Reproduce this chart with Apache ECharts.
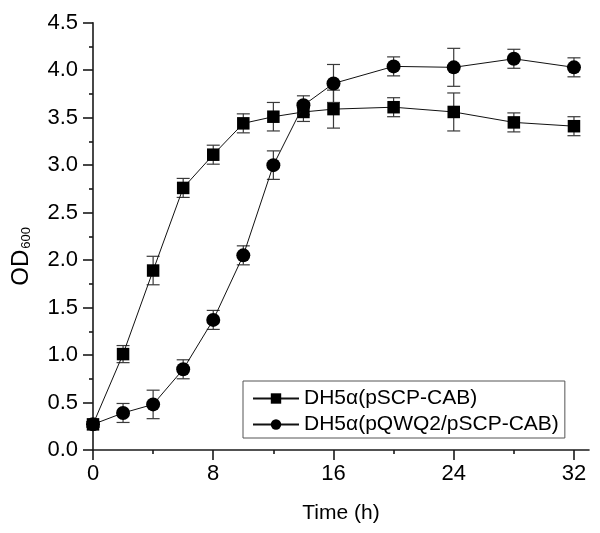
<!DOCTYPE html>
<html>
<head>
<meta charset="utf-8">
<script src="https://cdn.jsdelivr.net/npm/echarts@6/dist/echarts.min.js"></script>
<style>html,body{margin:0;padding:0;background:#fff;}#c{width:600px;height:533px;}</style>
</head>
<body>
<div id="c"></div>
<script>
const times = [0, 2, 4, 6, 8, 10, 12, 14, 16, 20, 24, 28, 32];
const seriesNames = ['DH5\u03b1(pSCP-CAB)', 'DH5\u03b1(pQWQ2/pSCP-CAB)'];
const squareVals = [0.27, 1.01, 1.89, 2.76, 3.11, 3.44, 3.51, 3.56, 3.59, 3.61, 3.56, 3.45, 3.41];
const squareErr  = [0.03, 0.09, 0.15, 0.10, 0.10, 0.10, 0.15, 0.10, 0.20, 0.10, 0.20, 0.10, 0.10];
const circleVals = [0.27, 0.39, 0.48, 0.85, 1.37, 2.05, 3.00, 3.63, 3.86, 4.04, 4.03, 4.12, 4.03];
const circleErr  = [0.03, 0.10, 0.15, 0.10, 0.10, 0.10, 0.15, 0.10, 0.20, 0.10, 0.20, 0.10, 0.10];
const xMajorTicks = [0, 8, 16, 24, 32];
const xMinorTicks = [4, 12, 20, 28];

const FONT = 'Liberation Sans, Arial, sans-serif';
const chart = echarts.init(document.getElementById('c'), null, {renderer: 'canvas'});

function pts(vals) { return times.map((t, i) => [t, vals[i]]); }
function errData(vals, errs) { return times.map((t, i) => [t, vals[i] - errs[i], vals[i] + errs[i]]); }

function errRender(params, api) {
  const x = api.value(0);
  const lo = api.coord([x, api.value(1)]);
  const hi = api.coord([x, api.value(2)]);
  const w = 6.5;
  const style = {stroke: '#3a3a3a', lineWidth: 1.2};
  return {
    type: 'group',
    children: [
      {type: 'line', shape: {x1: lo[0], y1: lo[1], x2: hi[0], y2: hi[1]}, style},
      {type: 'line', shape: {x1: lo[0] - w, y1: lo[1], x2: lo[0] + w, y2: lo[1]}, style},
      {type: 'line', shape: {x1: hi[0] - w, y1: hi[1], x2: hi[0] + w, y2: hi[1]}, style}
    ]
  };
}

const axisLineStyle = {color: '#1a1a1a', width: 1.6};

chart.setOption({
  animation: false,
  backgroundColor: '#fff',
  textStyle: {fontFamily: FONT},
  grid: {left: 93, right: 11, top: 22.7, bottom: 83, containLabel: false, outerBoundsMode: 'none'},
  legend: {
    data: seriesNames,
    orient: 'vertical',
    left: 243,
    top: 381,
    padding: [7, 6, 3, 9],
    itemGap: 5,
    itemWidth: 46,
    itemHeight: 13,
    borderColor: '#555',
    borderWidth: 1,
    textStyle: {fontFamily: FONT, fontSize: 21, color: '#000'}
  },
  xAxis: [{
    type: 'value',
    min: 0, max: 33, interval: 8,
    position: 'bottom',
    name: 'Time (h)',
    nameLocation: 'middle',
    nameGap: 53,
    nameTextStyle: {fontFamily: FONT, fontSize: 21, color: '#000'},
    axisLine: {show: true, onZero: false, lineStyle: axisLineStyle},
    axisTick: {show: true, inside: false, length: 10, customValues: xMajorTicks, lineStyle: axisLineStyle},
    axisLabel: {show: true, customValues: xMajorTicks, margin: 13, fontFamily: FONT, fontSize: 22, color: '#000'},
    splitLine: {show: false}
  }, {
    type: 'value',
    min: 0, max: 33,
    position: 'bottom',
    axisLine: {show: false},
    axisTick: {show: true, inside: false, length: 4, customValues: xMinorTicks, lineStyle: axisLineStyle},
    axisLabel: {show: false},
    splitLine: {show: false}
  }],
  yAxis: {
    type: 'value',
    min: 0, max: 4.5, interval: 0.5,
    name: '{a|OD}{b|600}',
    nameLocation: 'middle',
    nameGap: 60,
    nameTextStyle: {
      fontFamily: FONT, color: '#000',
      padding: [0, 40, 0, 0],
      rich: {
        a: {fontFamily: FONT, fontSize: 24, color: '#000', verticalAlign: 'top', lineHeight: 24},
        b: {fontFamily: FONT, fontSize: 13, color: '#000', verticalAlign: 'bottom', lineHeight: 13, padding: [20, 0, 0, 1]}
      }
    },
    axisLine: {show: true, lineStyle: axisLineStyle},
    axisTick: {show: true, inside: false, length: 10, lineStyle: axisLineStyle},
    minorTick: {show: true, splitNumber: 2, length: 4, lineStyle: axisLineStyle},
    axisLabel: {
      margin: 15, fontFamily: FONT, fontSize: 22, color: '#000',
      formatter: v => v.toFixed(1)
    },
    splitLine: {show: false},
    minorSplitLine: {show: false}
  },
  series: [
    {
      name: 'errSquare', type: 'custom', renderItem: errRender,
      data: errData(squareVals, squareErr), encode: {x: 0, y: [1, 2]}, z: 2, silent: true
    },
    {
      name: 'errCircle', type: 'custom', renderItem: errRender,
      data: errData(circleVals, circleErr), encode: {x: 0, y: [1, 2]}, z: 2, silent: true
    },
    {
      name: seriesNames[0], type: 'line', data: pts(squareVals),
      symbol: 'rect', symbolSize: 12.5, showAllSymbol: true,
      lineStyle: {color: '#111', width: 1},
      itemStyle: {color: '#000', borderWidth: 0},
      z: 3
    },
    {
      name: seriesNames[1], type: 'line', data: pts(circleVals),
      symbol: 'circle', symbolSize: 14, showAllSymbol: true,
      lineStyle: {color: '#111', width: 1},
      itemStyle: {color: '#000', borderWidth: 0},
      z: 4
    }
  ]
});
</script>
</body>
</html>
